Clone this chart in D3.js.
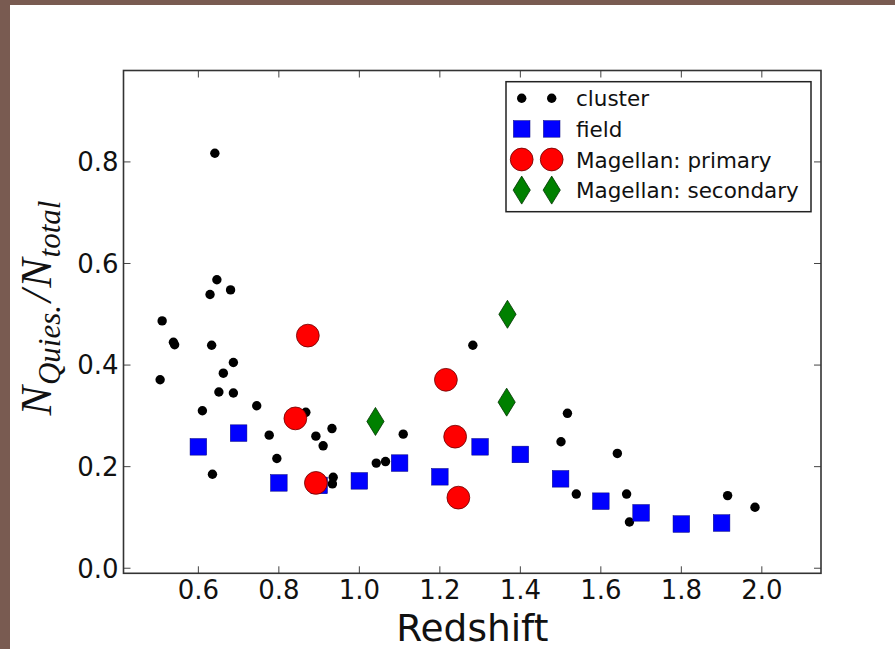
<!DOCTYPE html>
<html>
<head>
<meta charset="utf-8">
<script src="https://cdn.jsdelivr.net/npm/d3@7"></script>
<style>
  html, body { margin: 0; padding: 0; background: #795b51; }
  svg { display: block; }
  .tick-label { font-family: "DejaVu Sans", sans-serif; font-size: 26px; fill: #111; }
  .legend-label { font-family: "DejaVu Sans", sans-serif; font-size: 21.5px; fill: #111; }
</style>
</head>
<body>
<div id="chart"></div>
<script>
/* Data: redshift and quiescent fraction. */
const clusterZ = [0.510, 0.505, 0.538, 0.541, 0.610, 0.635, 0.641, 0.646, 0.629, 0.680,
  0.633, 0.687, 0.662, 0.651, 0.687, 0.745, 0.776, 0.795, 0.867, 0.932,
  0.892, 0.910, 0.935, 0.933, 1.109, 1.042, 1.065, 1.282, 1.517, 1.501,
  1.641, 1.539, 1.664, 1.671, 1.915, 1.983];
const clusterF = [0.487, 0.371, 0.445, 0.440, 0.310, 0.185, 0.817, 0.568, 0.539, 0.548,
  0.439, 0.405, 0.384, 0.347, 0.345, 0.320, 0.262, 0.216, 0.307, 0.275,
  0.260, 0.241, 0.179, 0.166, 0.264, 0.207, 0.210, 0.439, 0.305, 0.249,
  0.226, 0.146, 0.146, 0.091, 0.143, 0.120];

const fieldZ = [0.6, 0.7, 0.8, 0.9, 1.0, 1.1, 1.2, 1.3, 1.4, 1.5, 1.6, 1.7, 1.8, 1.9];
const fieldF = [0.239, 0.266, 0.168, 0.163, 0.172, 0.207, 0.180, 0.239, 0.224, 0.176,
  0.132, 0.109, 0.087, 0.089];

const primaryZ = [0.872, 0.841, 0.892, 1.215, 1.238, 1.246];
const primaryF = [0.458, 0.295, 0.168, 0.371, 0.259, 0.139];

const secondaryZ = [1.040, 1.368, 1.366];
const secondaryF = [0.289, 0.500, 0.327];

const xTicks = [0.6, 0.8, 1.0, 1.2, 1.4, 1.6, 1.8, 2.0];
const yTicks = [0.0, 0.2, 0.4, 0.6, 0.8];

const legendLabels = ["cluster", "field", "Magellan: primary", "Magellan: secondary"];

/* Global chart parameters. */
const chartParams = {
  width: 895,
  height: 649,
  left: 123.5,
  right: 821,
  top: 70.5,
  bottom: 573.3,
  tickLen: 7
};

const x = d3.scaleLinear()
  .domain([0.414, 2.147])
  .range([chartParams.left, chartParams.right]);
const y = d3.scaleLinear()
  .domain([-0.01, 0.98])
  .range([chartParams.bottom, chartParams.top]);

const svg = d3.select("#chart")
  .append("svg")
  .attr("width", chartParams.width)
  .attr("height", chartParams.height);

/* Brown slide border, white page. */
svg.append("rect")
  .attr("width", chartParams.width)
  .attr("height", chartParams.height)
  .attr("fill", "#795b51");
svg.append("rect")
  .attr("x", 10)
  .attr("y", 5)
  .attr("width", chartParams.width - 10)
  .attr("height", chartParams.height - 5)
  .attr("fill", "#ffffff");

const zip = (a, b) => a.map((v, i) => [v, b[i]]);

/* Marker drawing helpers, shared by plot and legend. */
const markers = {
  cluster: (g, px, py) => g.append("circle")
    .attr("cx", px).attr("cy", py).attr("r", 4.7)
    .attr("fill", "#000"),
  field: (g, px, py) => g.append("rect")
    .attr("x", px - 8.3).attr("y", py - 8.3)
    .attr("width", 16.6).attr("height", 16.6)
    .attr("fill", "#0000ff").attr("stroke", "#00007a").attr("stroke-width", 0.5),
  primary: (g, px, py) => g.append("circle")
    .attr("cx", px).attr("cy", py).attr("r", 11.4)
    .attr("fill", "#ff0000").attr("stroke", "#6a0000").attr("stroke-width", 0.8),
  secondary: (g, px, py) => g.append("path")
    .attr("d", `M${px},${py - 14}L${px + 8.6},${py}L${px},${py + 14}L${px - 8.6},${py}Z`)
    .attr("fill", "#008000").attr("stroke", "#003300").attr("stroke-width", 0.8)
};

const plot = svg.append("g");

/* Plot the four series in matplotlib order. */
zip(clusterZ, clusterF).forEach(d => markers.cluster(plot, x(d[0]), y(d[1])));
zip(fieldZ, fieldF).forEach(d => markers.field(plot, x(d[0]), y(d[1])));
zip(primaryZ, primaryF).forEach(d => markers.primary(plot, x(d[0]), y(d[1])));
zip(secondaryZ, secondaryF).forEach(d => markers.secondary(plot, x(d[0]), y(d[1])));

/* Axes frame with inward ticks on all four sides. */
buildAxes();

/* Legend in the upper right corner. */
buildLegend();

/* Axis titles. */
svg.append("text")
  .attr("x", (chartParams.left + chartParams.right) / 2)
  .attr("y", 641)
  .attr("text-anchor", "middle")
  .style("font-family", "DejaVu Sans, sans-serif")
  .style("font-size", "37.5px")
  .style("fill", "#111")
  .text("Redshift");

const yTitle = svg.append("text")
  .attr("transform", "translate(51,308) rotate(-90)")
  .attr("text-anchor", "middle")
  .style("font-family", "Liberation Serif, serif")
  .style("font-style", "italic")
  .style("font-size", "44px")
  .style("fill", "#111");
yTitle.append("tspan").text("N");
yTitle.append("tspan").attr("dy", 9).attr("dx", 1).style("font-size", "31px").text("Quies.");
yTitle.append("tspan").attr("dy", -9).attr("dx", 3).text("/");
yTitle.append("tspan").attr("dx", 2).text("N");
yTitle.append("tspan").attr("dy", 9).attr("dx", 1).style("font-size", "31px").text("total");

// ---------------- Helper functions ---------------- //

function buildAxes() {
  const p = chartParams;
  const axes = svg.append("g");

  xTicks.forEach(t => {
    const px = x(t);
    axes.append("line").attr("x1", px).attr("x2", px)
      .attr("y1", p.bottom).attr("y2", p.bottom - p.tickLen);
    axes.append("line").attr("x1", px).attr("x2", px)
      .attr("y1", p.top).attr("y2", p.top + p.tickLen);
    axes.append("text").attr("class", "tick-label")
      .attr("x", px).attr("y", 599)
      .attr("text-anchor", "middle")
      .text(d3.format(".1f")(t));
  });

  yTicks.forEach(t => {
    const py = y(t);
    axes.append("line").attr("x1", p.left).attr("x2", p.left + p.tickLen)
      .attr("y1", py).attr("y2", py);
    axes.append("line").attr("x1", p.right).attr("x2", p.right - p.tickLen)
      .attr("y1", py).attr("y2", py);
    axes.append("text").attr("class", "tick-label")
      .attr("x", 118.5).attr("y", py)
      .attr("dy", "0.36em")
      .attr("text-anchor", "end")
      .text(d3.format(".1f")(t));
  });

  axes.selectAll("line")
    .attr("stroke", "#444")
    .attr("stroke-width", 1);

  axes.append("rect")
    .attr("x", p.left).attr("y", p.top)
    .attr("width", p.right - p.left)
    .attr("height", p.bottom - p.top)
    .attr("fill", "none")
    .attr("stroke", "#333")
    .attr("stroke-width", 1.6);
}

function buildLegend() {
  const legend = svg.append("g");
  legend.append("rect")
    .attr("x", 506).attr("y", 81.7)
    .attr("width", 305).attr("height", 130)
    .attr("fill", "#fff")
    .attr("stroke", "#222")
    .attr("stroke-width", 1.5);

  const keys = ["cluster", "field", "primary", "secondary"];
  keys.forEach((k, i) => {
    const ry = 98.3 + i * 30.6;
    markers[k](legend, 521.7, ry);
    markers[k](legend, 551.7, ry);
    legend.append("text").attr("class", "legend-label")
      .attr("x", 576)
      .attr("y", ry + 8)
      .text(legendLabels[i]);
  });
}
</script>
</body>
</html>
